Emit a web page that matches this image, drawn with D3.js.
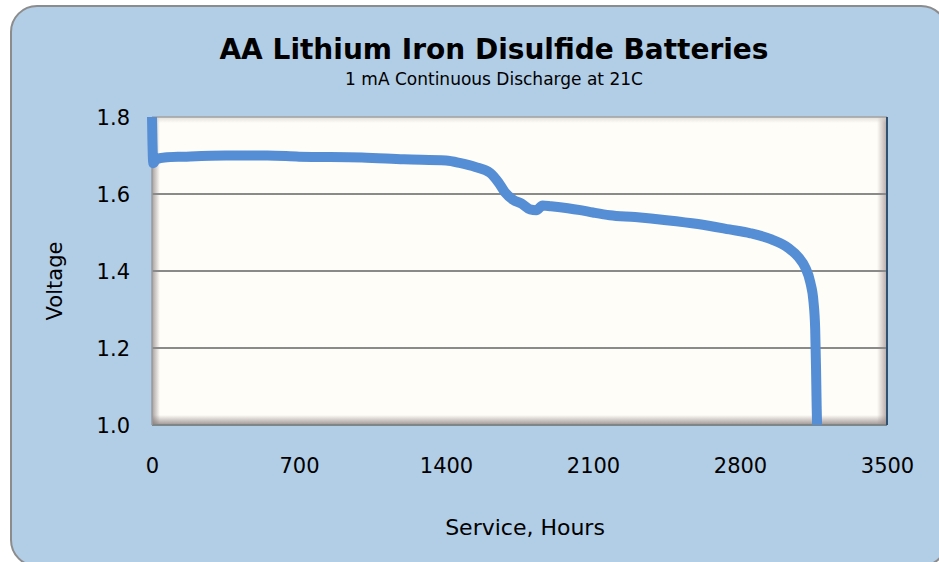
<!DOCTYPE html>
<html>
<head>
<meta charset="utf-8">
<script src="https://cdn.jsdelivr.net/npm/d3@7"></script>
<style>
  body { margin: 0; background: #fff; }
  text { font-family: "DejaVu Sans", Verdana, sans-serif; fill: #000; }
</style>
</head>
<body>
<script>
// Discharge curve
const hours = [0, 2, 6, 20, 60, 150, 350, 550, 700, 1000, 1200, 1400, 1470, 1540, 1610, 1650, 1680, 1720, 1760, 1800, 1830, 1860, 1900, 1980, 2040, 2100, 2180, 2300, 2450, 2600, 2750, 2850, 2950, 3030, 3080, 3110, 3135, 3150, 3158, 3162, 3165, 3167]
const volts = [1.80, 1.74, 1.68, 1.69, 1.695, 1.697, 1.700, 1.700, 1.697, 1.695, 1.690, 1.687, 1.680, 1.670, 1.655, 1.63, 1.605, 1.585, 1.575, 1.560, 1.558, 1.570, 1.568, 1.563, 1.558, 1.552, 1.545, 1.540, 1.532, 1.522, 1.508, 1.498, 1.482, 1.460, 1.435, 1.41, 1.37, 1.32, 1.25, 1.15, 1.05, 1.0]
const xTicks = [0, 700, 1400, 2100, 2800, 3500]
const yTicks = [1.0, 1.2, 1.4, 1.6, 1.8]

const W = 939, H = 562
const margin = {top: 117, right: 52, bottom: 137, left: 152}
const width = W - margin.left - margin.right,
      height = H - margin.top - margin.bottom

const svg = d3.select('body').append('svg')
    .attr('width', W)
    .attr('height', H)

const defs = svg.append('defs')
function edgeGrad(id, x1, y1, x2, y2, c) {
  const g = defs.append('linearGradient').attr('id', id)
      .attr('x1', x1).attr('y1', y1).attr('x2', x2).attr('y2', y2)
  g.append('stop').attr('offset', 0).attr('stop-color', c).attr('stop-opacity', 0.75)
  g.append('stop').attr('offset', 1).attr('stop-color', c).attr('stop-opacity', 0)
}
edgeGrad('gl', 0, 0, 1, 0, '#8a7f80')
edgeGrad('gb', 0, 1, 0, 0, '#7d7273')
edgeGrad('gr', 1, 0, 0, 0, '#9c8c8c')
edgeGrad('gt', 0, 0, 0, 1, '#d8d4d0')

// outer frame
svg.append('rect')
    .attr('x', 11).attr('y', 6)
    .attr('width', 936).attr('height', 560)
    .attr('rx', 26)
    .attr('fill', '#b2cde6')
    .attr('stroke', '#8c8c8c')
    .attr('stroke-width', 2)

// title
svg.append('text')
    .attr('x', 494).attr('y', 59)
    .attr('text-anchor', 'middle')
    .style('font-size', '28px')
    .style('font-weight', 'bold')
    .text('AA Lithium Iron Disulfide Batteries')

svg.append('text')
    .attr('x', 494).attr('y', 85)
    .attr('text-anchor', 'middle')
    .style('font-size', '17px')
    .text('1 mA Continuous Discharge at 21C')

const g = svg.append('g')
    .attr('transform', `translate(${margin.left}, ${margin.top})`)

let xScale = d3.scaleLinear().domain([0, 3500]).range([0, width])
let yScale = d3.scaleLinear().domain([1.0, 1.8]).range([height, 0])

// plot area with bevel
g.append('rect')
    .attr('width', width).attr('height', height)
    .attr('fill', '#fffdf8')
g.append('rect').attr('width', 8).attr('height', height).attr('fill', 'url(#gl)')
g.append('rect').attr('y', height - 10).attr('width', width).attr('height', 10).attr('fill', 'url(#gb)')
g.append('rect').attr('x', width - 10).attr('width', 10).attr('height', height).attr('fill', 'url(#gr)')
g.append('rect').attr('width', width).attr('height', 6).attr('fill', 'url(#gt)')

// gridlines
g.append('g')
    .selectAll('line')
    .data(yTicks.slice(1, -1))
    .enter()
  .append('line')
    .attr('x1', 0).attr('x2', width)
    .attr('y1', d => yScale(d)).attr('y2', d => yScale(d))
    .attr('stroke', '#8a8a8a')
    .attr('stroke-width', 2)

// plot border
g.append('line').attr('x1', 0).attr('x2', width).attr('y1', 0).attr('y2', 0)
    .attr('stroke', '#a0a0a0').attr('stroke-width', 1.5)
g.append('line').attr('x1', 0).attr('x2', width).attr('y1', height).attr('y2', height)
    .attr('stroke', '#7f8688').attr('stroke-width', 2)
g.append('line').attr('x1', 0).attr('x2', 0).attr('y1', 0).attr('y2', height)
    .attr('stroke', '#9a9a9a').attr('stroke-width', 1.5)
g.append('line').attr('x1', width).attr('x2', width).attr('y1', 0).attr('y2', height)
    .attr('stroke', '#2f5070').attr('stroke-width', 2)

// curve
const line = d3.line()
    .x((d, i) => xScale(hours[i]))
    .y(d => yScale(d))
    .curve(d3.curveMonotoneX)

g.append('path')
    .datum(volts)
    .attr('d', line)
    .attr('fill', 'none')
    .attr('stroke', '#558ed5')
    .attr('stroke-width', 10)

// Y axis
const yAxis = g.append('g')
    .call(d3.axisLeft(yScale).tickValues(yTicks).tickFormat(d3.format('.1f')).tickSize(0).tickPadding(22))
yAxis.select('.domain').remove()
yAxis.selectAll('text').style('font-size', '21px').attr('dy', '0.35em')

// X axis
const xAxis = g.append('g')
    .attr('transform', `translate(0, ${height})`)
    .call(d3.axisBottom(xScale).tickValues(xTicks).tickFormat(d3.format('d')).tickSize(0).tickPadding(33))
xAxis.select('.domain').remove()
xAxis.selectAll('text').style('font-size', '21px')

svg.append('text')
    .attr('transform', 'rotate(-90)')
    .attr('x', -281).attr('y', 62)
    .attr('text-anchor', 'middle')
    .style('font-size', '21px')
    .text('Voltage')

svg.append('text')
    .attr('x', 525).attr('y', 535)
    .attr('text-anchor', 'middle')
    .style('font-size', '22px')
    .text('Service, Hours')
</script>
</body>
</html>
